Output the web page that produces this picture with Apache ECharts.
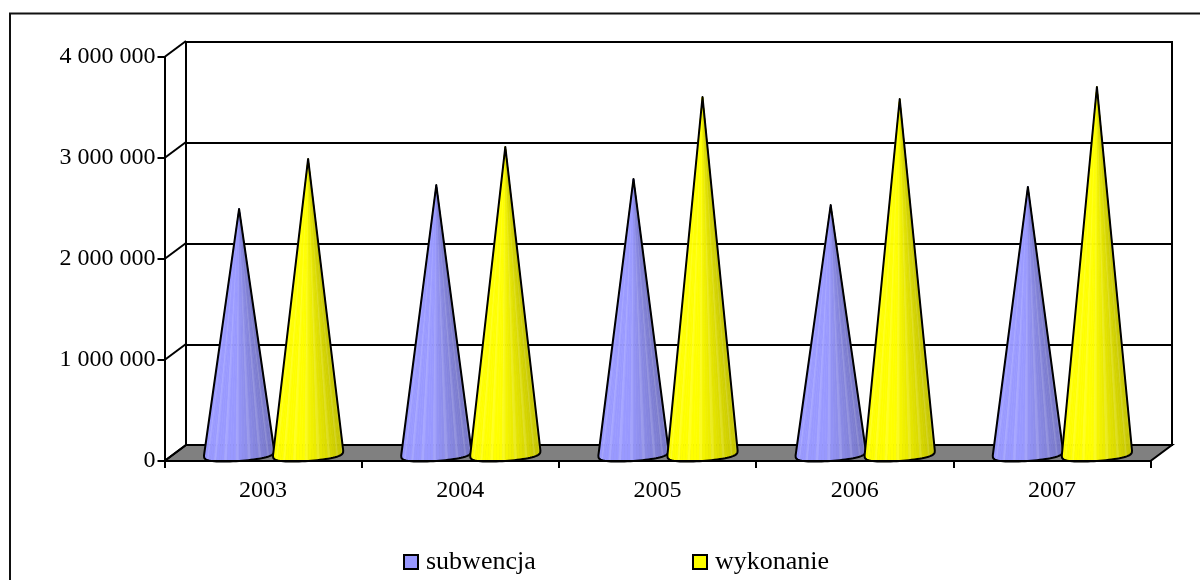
<!DOCTYPE html>
<html>
<head>
<meta charset="utf-8">
<style>html,body{margin:0;padding:0;background:#fff}#c{width:1200px;height:580px}</style>
<script src="https://cdn.jsdelivr.net/npm/echarts@6/dist/echarts.min.js"></script>
</head>
<body>
<div id="c"></div>
<script>
const years = ['2003', '2004', '2005', '2006', '2007'];
const subwencja = [2416000, 2653000, 2713000, 2455000, 2634000];
const wykonanie = [2911000, 3030000, 3525000, 3505000, 3624000];
const yTicks = [0, 1000000, 2000000, 3000000, 4000000];
const yTickLabels = ['0', '1 000 000', '2 000 000', '3 000 000', '4 000 000'];

const FONT = '"Liberation Serif","Times New Roman",serif';
const DEPTH_X = 21.5, DEPTH_Y = -16;

function mix(c, w) {
  return [c[0], c[1], c[2]].map(v => Math.round(v + (255 - v) * w));
}
function shade(base, t, light) {
  const f = t < 0.42 ? 1 : 1 - 0.23 * (t - 0.42) / 0.58;
  let c = base.map(v => v * f);
  if (light) c = mix(c, 0.14);
  return 'rgb(' + c.map(Math.round).join(',') + ')';
}
function coneRenderer(base, offsetShare) {
  return function (params, api) {
    const band = api.size([1, 0])[0];
    const v = api.value(1);
    const baseP = api.coord([api.value(0), 0]);
    const top = api.coord([api.value(0), v]);
    const cx = baseP[0] + band * offsetShare;
    const by = baseP[1];
    const ax = cx, ay = top[1];
    const r = band * 0.178, ry = 8, tilt = 2.5, N = 36;
    const pts = [];
    for (let i = 0; i <= N; i++) {
      const th = Math.PI - Math.PI * i / N;
      pts.push([cx + r * Math.cos(th), by + ry * Math.pow(Math.sin(th), 0.6) - tilt * Math.cos(th)]);
    }
    const children = [];
    for (let i = 0; i < N; i++) {
      const t = ((pts[i][0] + pts[i + 1][0]) / 2 - (cx - r)) / (2 * r);
      const col = shade(base, t, i % 4 === 1);
      children.push({
        type: 'polygon',
        shape: { points: [[ax, ay], pts[i], pts[i + 1]] },
        style: { fill: col, stroke: col, lineWidth: 0.7 }
      });
    }
    children.push({
      type: 'polygon',
      shape: { points: [[ax, ay]].concat(pts) },
      style: { fill: 'none', stroke: '#000', lineWidth: 2, lineJoin: 'round' }
    });
    return { type: 'group', children };
  };
}
function frameRenderer(params, api) {
  const cs = params.coordSys;
  const l = cs.x, b = cs.y + cs.height, w = cs.width;
  const v = api.value(0);
  const p = api.coord([0, v]);
  const children = [{
    type: 'line',
    shape: { x1: l, y1: p[1], x2: l + DEPTH_X, y2: p[1] + DEPTH_Y },
    style: { stroke: '#000', lineWidth: 2 }
  }];
  if (v === 0) {
    children.unshift({
      type: 'polygon',
      shape: { points: [[l, b], [l + DEPTH_X, b + DEPTH_Y], [l + w + DEPTH_X, b + DEPTH_Y], [l + w, b]] },
      style: { fill: '#808080', stroke: '#000', lineWidth: 2 }
    });
  }
  return { type: 'group', children };
}

const legendStyle = {
  top: 544, itemWidth: 14, itemHeight: 14, icon: 'rect',
  itemStyle: { borderColor: '#000', borderWidth: 2, borderJoin: 'miter' },
  textStyle: { fontFamily: FONT, fontSize: 26, color: '#000', padding: [0, 0, 0, 3] }
};

const chart = echarts.init(document.getElementById('c'), null, { renderer: 'canvas' });
chart.setOption({
  animation: false,
  backgroundColor: '#fff',
  textStyle: { fontFamily: FONT, color: '#000' },
  graphic: [{
    type: 'polyline',
    shape: { points: [[10, 580], [10, 13.5], [1200, 13.5]] },
    style: { fill: 'none', stroke: '#111', lineWidth: 2 },
    silent: true
  }],
  legend: [
    Object.assign({ data: ['subwencja'], left: 398 }, legendStyle),
    Object.assign({ data: ['wykonanie'], left: 687 }, legendStyle)
  ],
  grid: [
    { left: 186, top: 42, width: 986, height: 403, show: true, borderColor: '#000', borderWidth: 2, backgroundColor: 'transparent' },
    { left: 164.5, top: 57, width: 986, height: 404 },
    { left: 175, top: 49, width: 986, height: 404 }
  ],
  xAxis: [
    { gridIndex: 0, type: 'category', data: years, show: false },
    { gridIndex: 1, type: 'category', data: years, z: 5,
      axisLine: { onZero: false, lineStyle: { color: '#000', width: 2 } },
      axisTick: { show: true, length: 7, lineStyle: { color: '#000', width: 2 } },
      axisLabel: { color: '#000', fontSize: 24, fontFamily: FONT, margin: 18 } },
    { gridIndex: 2, type: 'category', data: years, show: false }
  ],
  yAxis: [
    { gridIndex: 0, type: 'value', min: 0, max: 4000000, interval: 1000000,
      axisLine: { show: false }, axisTick: { show: false }, axisLabel: { show: false },
      splitLine: { show: true, lineStyle: { color: '#000', width: 2 } } },
    { gridIndex: 1, type: 'value', min: 0, max: 4000000, interval: 1000000, z: 5,
      axisLine: { show: true, lineStyle: { color: '#000', width: 2 } },
      axisTick: { show: true, length: 7, lineStyle: { color: '#000', width: 2 } },
      splitLine: { show: false },
      axisLabel: { color: '#000', fontSize: 24, fontFamily: FONT, margin: 9, padding: [5, 0, 0, 0],
        formatter: v => yTickLabels[yTicks.indexOf(v)] } },
    { gridIndex: 2, type: 'value', min: 0, max: 4000000, interval: 1000000, show: false, splitLine: { show: false } }
  ],
  series: [
    { type: 'custom', name: 'frame', xAxisIndex: 1, yAxisIndex: 1, z: 1, silent: true,
      data: yTicks.map(v => [v]), renderItem: frameRenderer, encode: { x: -1, y: 0 } },
    { type: 'custom', name: 'subwencja', xAxisIndex: 2, yAxisIndex: 2, z: 3,
      itemStyle: { color: '#9999ff' },
      data: years.map((y, i) => [i, subwencja[i]]),
      renderItem: coneRenderer([153, 153, 255], -0.175), encode: { x: 0, y: 1 } },
    { type: 'custom', name: 'wykonanie', xAxisIndex: 2, yAxisIndex: 2, z: 4,
      itemStyle: { color: '#ffff00' },
      data: years.map((y, i) => [i, wykonanie[i]]),
      renderItem: coneRenderer([255, 255, 0], 0.175), encode: { x: 0, y: 1 } }
  ]
});
</script>
</body>
</html>
